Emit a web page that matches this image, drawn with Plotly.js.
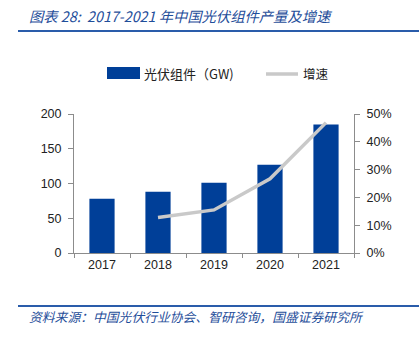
<!DOCTYPE html>
<html><head><meta charset="utf-8">
<script src="https://cdn.plot.ly/plotly-3.0.1.min.js"></script>
<style>html,body{margin:0;padding:0;background:#fff}#chart{width:419px;height:339px}</style>
</head><body><div id="chart"></div>
<script>
const years = ['2017','2018','2019','2020','2021'];
const production = [78, 88, 101, 127, 185];
const growthYears = ['2018','2019','2020','2021'];
const growth = [0.128, 0.155, 0.267, 0.469];
const leftTicks = [0, 50, 100, 150, 200];
const rightTicks = [0, 0.1, 0.2, 0.3, 0.4, 0.5];

const L = 74, R = 354, T = 114, B = 253;
const px = x => (x - L) / (R - L);
const py = y => (B - y) / (B - T);
const cjk = '"Noto Sans CJK SC", "Liberation Sans", sans-serif';
const blueText = '#1f4e9a';

const traces = [
  {type:'bar', x: years, y: production, marker:{color:'#003f98'}, width:0.45, showlegend:false, hoverinfo:'skip'},
  {type:'scatter', mode:'lines', x: growthYears, y: growth, yaxis:'y2', line:{color:'#c9c9c9', width:3.5}, showlegend:false, hoverinfo:'skip'}
];

const axisCommon = {showgrid:false, zeroline:false, linecolor:'#8c8c8c', linewidth:1, ticks:'outside', ticklen:5, tickcolor:'#8c8c8c', tickfont:{family:'"Liberation Sans", sans-serif', size:12.5, color:'#222'}, fixedrange:true};

const layout = {
  width:419, height:339,
  margin:{l:L, r:419-R, t:T, b:339-B, pad:0},
  paper_bgcolor:'#fff', plot_bgcolor:'#fff',
  showlegend:false,
  bargap:0.55,
  xaxis: Object.assign({}, axisCommon, {type:'category', showline:true, tickson:'boundaries', ticklen:4}),
  yaxis: Object.assign({}, axisCommon, {range:[0,200], tickvals:leftTicks, showline:true, ticklabelstandoff:4}),
  yaxis2: Object.assign({}, axisCommon, {overlaying:'y', side:'right', range:[0,0.5], tickvals:rightTicks, tickformat:'.0%', showline:true, ticklabelstandoff:4}),
  shapes: [
    {type:'line', xref:'paper', yref:'paper', x0:px(18), x1:px(419), y0:py(31), y1:py(31), line:{color:'#2a5caa', width:2}},
    {type:'line', xref:'paper', yref:'paper', x0:px(18), x1:px(419), y0:py(306), y1:py(306), line:{color:'#2a5caa', width:2}},
    {type:'rect', xref:'paper', yref:'paper', x0:px(107), x1:px(140), y0:py(79), y1:py(67), fillcolor:'#003f98', line:{width:0}},
    {type:'line', xref:'paper', yref:'paper', x0:px(266), x1:px(298), y0:py(74), y1:py(74), line:{color:'#c9c9c9', width:3.5}}
  ],
  annotations: [
    {xref:'paper', yref:'paper', x:px(27), y:py(16), xanchor:'left', yanchor:'middle', showarrow:false,
     text:'<i>图表 28:  2017-2021 年中国光伏组件产量及增速</i>', font:{family:cjk, size:14.3, color:blueText}},
    {xref:'paper', yref:'paper', x:px(27), y:py(316), xanchor:'left', yanchor:'middle', showarrow:false,
     text:'<i>资料来源：中国光伏行业协会、智研咨询，国盛证券研究所</i>', font:{family:cjk, size:12.8, color:blueText}},
    {xref:'paper', yref:'paper', x:px(142), y:py(73), xanchor:'left', yanchor:'middle', showarrow:false,
     text:'光伏组件（GW)', font:{family:cjk, size:13, color:'#222'}},
    {xref:'paper', yref:'paper', x:px(301), y:py(73), xanchor:'left', yanchor:'middle', showarrow:false,
     text:'增速', font:{family:cjk, size:12.5, color:'#222'}}
  ]
};

Plotly.newPlot('chart', traces, layout, {staticPlot:true, displayModeBar:false});
</script></body></html>
